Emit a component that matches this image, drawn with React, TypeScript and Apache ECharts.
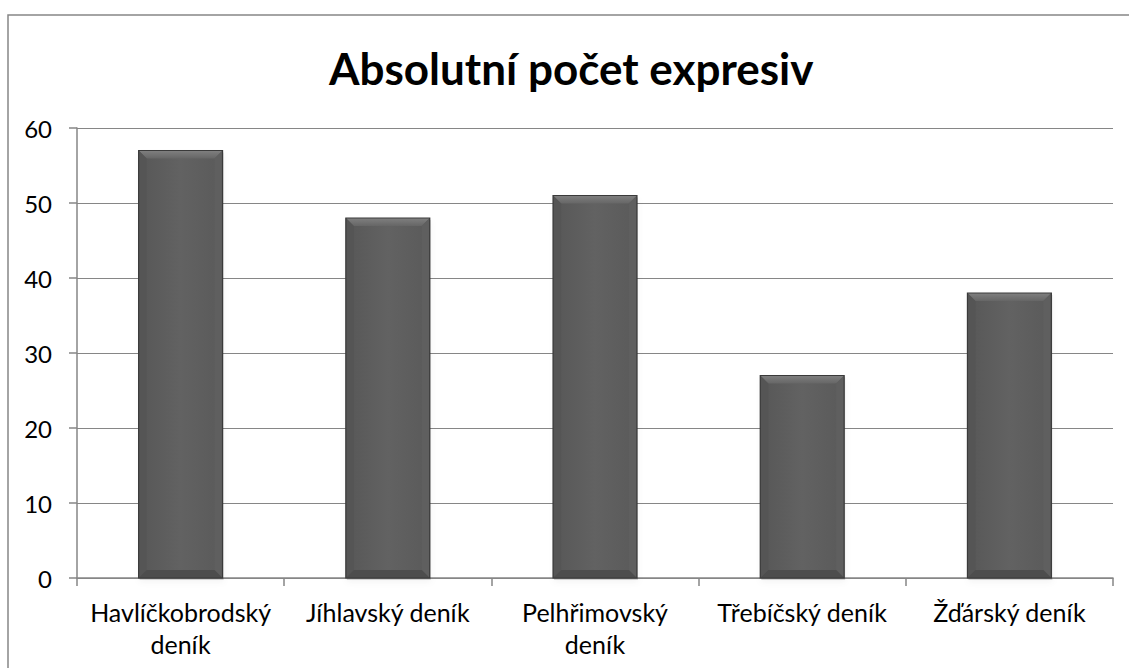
import React, { useEffect, useRef } from "react";
import * as echarts from "echarts";

const titleText = "Absolutní počet expresiv";
const categories = ["Havlíčkobrodský\ndeník", "Jíhlavský deník", "Pelhřimovský\ndeník", "Třebíčský deník", "Žďárský deník"];
const values = [57, 48, 51, 27, 38];
const yTicks = { min: 0, max: 60, interval: 10 };

const FONT = "Lato, 'Open Sans', sans-serif";

export default function App() {
  const ref = useRef<HTMLDivElement>(null);
  useEffect(() => {
    const chart = echarts.init(ref.current!, null, { renderer: "svg" });
    const renderItem = (params: any, api: any) => {
      const i = api.value(0);
      const v = api.value(1);
      const top = api.coord([i, v]);
      const bot = api.coord([i, 0]);
      const bw = api.size([1, 0])[0] * 0.405;
      const x0 = top[0] - bw / 2;
      const x1 = top[0] + bw / 2;
      const y0 = top[1];
      const y1 = bot[1];
      const b = 8;
      return {
        type: "group",
        children: [
          {
            type: "rect",
            shape: { x: x0 + 1, y: y0 + 2, width: bw, height: y1 - y0 },
            style: { fill: "rgba(0,0,0,0.15)", shadowBlur: 6, shadowColor: "rgba(0,0,0,0.3)", shadowOffsetY: 2 },
          },
          {
            type: "rect",
            shape: { x: x0, y: y0, width: bw, height: y1 - y0 },
            style: {
              fill: new echarts.graphic.LinearGradient(0, 0, 1, 0, [
                { offset: 0, color: "#575757" },
                { offset: 0.5, color: "#626262" },
                { offset: 1, color: "#5a5a5a" },
              ]),
            },
          },
          {
            type: "polygon",
            shape: { points: [[x0, y0], [x1, y0], [x1 - b, y0 + b], [x0 + b, y0 + b]] },
            style: {
              fill: new echarts.graphic.LinearGradient(0, 0, 0, 1, [
                { offset: 0, color: "#808080" },
                { offset: 1, color: "#666666" },
              ]),
            },
          },
          {
            type: "polygon",
            shape: { points: [[x0, y0], [x0 + b, y0 + b], [x0 + b, y1 - b], [x0, y1]] },
            style: { fill: "#555555" },
          },
          {
            type: "polygon",
            shape: { points: [[x1, y0], [x1 - b, y0 + b], [x1 - b, y1 - b], [x1, y1]] },
            style: { fill: "#5f5f5f" },
          },
          {
            type: "polygon",
            shape: { points: [[x0, y1], [x0 + b, y1 - b], [x1 - b, y1 - b], [x1, y1]] },
            style: { fill: "#4d4d4d" },
          },
          {
            type: "rect",
            shape: { x: x0, y: y0, width: bw, height: y1 - y0 },
            style: { fill: "none", stroke: "#3a3a3a", lineWidth: 1.2 },
          },
        ],
      };
    };
    chart.setOption({
      animation: false,
      backgroundColor: "#ffffff",
      title: {
        text: titleText,
        left: 329,
        top: 46,
        padding: 0,
        textStyle: { fontFamily: FONT, fontSize: 44, fontWeight: "bold", color: "#000" },
      },
      graphic: [
        {
          type: "rect",
          shape: { x: 8, y: 15, width: 1200, height: 700 },
          style: { fill: "none", stroke: "#868686", lineWidth: 1.5 },
          silent: true,
          z: 100,
        },
      ],
      grid: { left: 77, right: 16, top: 128, bottom: 90 },
      xAxis: {
        type: "category",
        data: categories,
        axisLine: { show: true, lineStyle: { color: "#868686", width: 1.5 } },
        axisTick: { show: true, length: 8, alignWithLabel: false, lineStyle: { color: "#868686", width: 1.5 } },
        axisLabel: { fontFamily: FONT, fontSize: 25, color: "#000", margin: 18, lineHeight: 32, interval: 0 },
      },
      yAxis: {
        type: "value",
        min: yTicks.min,
        max: yTicks.max,
        interval: yTicks.interval,
        axisLine: { show: true, lineStyle: { color: "#868686", width: 1.5 } },
        axisTick: { show: true, length: 8, lineStyle: { color: "#868686", width: 1.5 } },
        splitLine: { show: true, lineStyle: { color: "#868686", width: 1 } },
        axisLabel: { fontFamily: FONT, fontSize: 24, color: "#000", margin: 25 },
      },
      series: [
        {
          type: "custom",
          renderItem,
          data: values.map((v, i) => [i, v]),
          encode: { x: 0, y: 1 },
          z: 3,
        },
      ],
    });
    return () => chart.dispose();
  }, []);
  return <div ref={ref} style={{ position: "absolute", left: 0, top: 0, width: 1129, height: 668 }} />;
}
